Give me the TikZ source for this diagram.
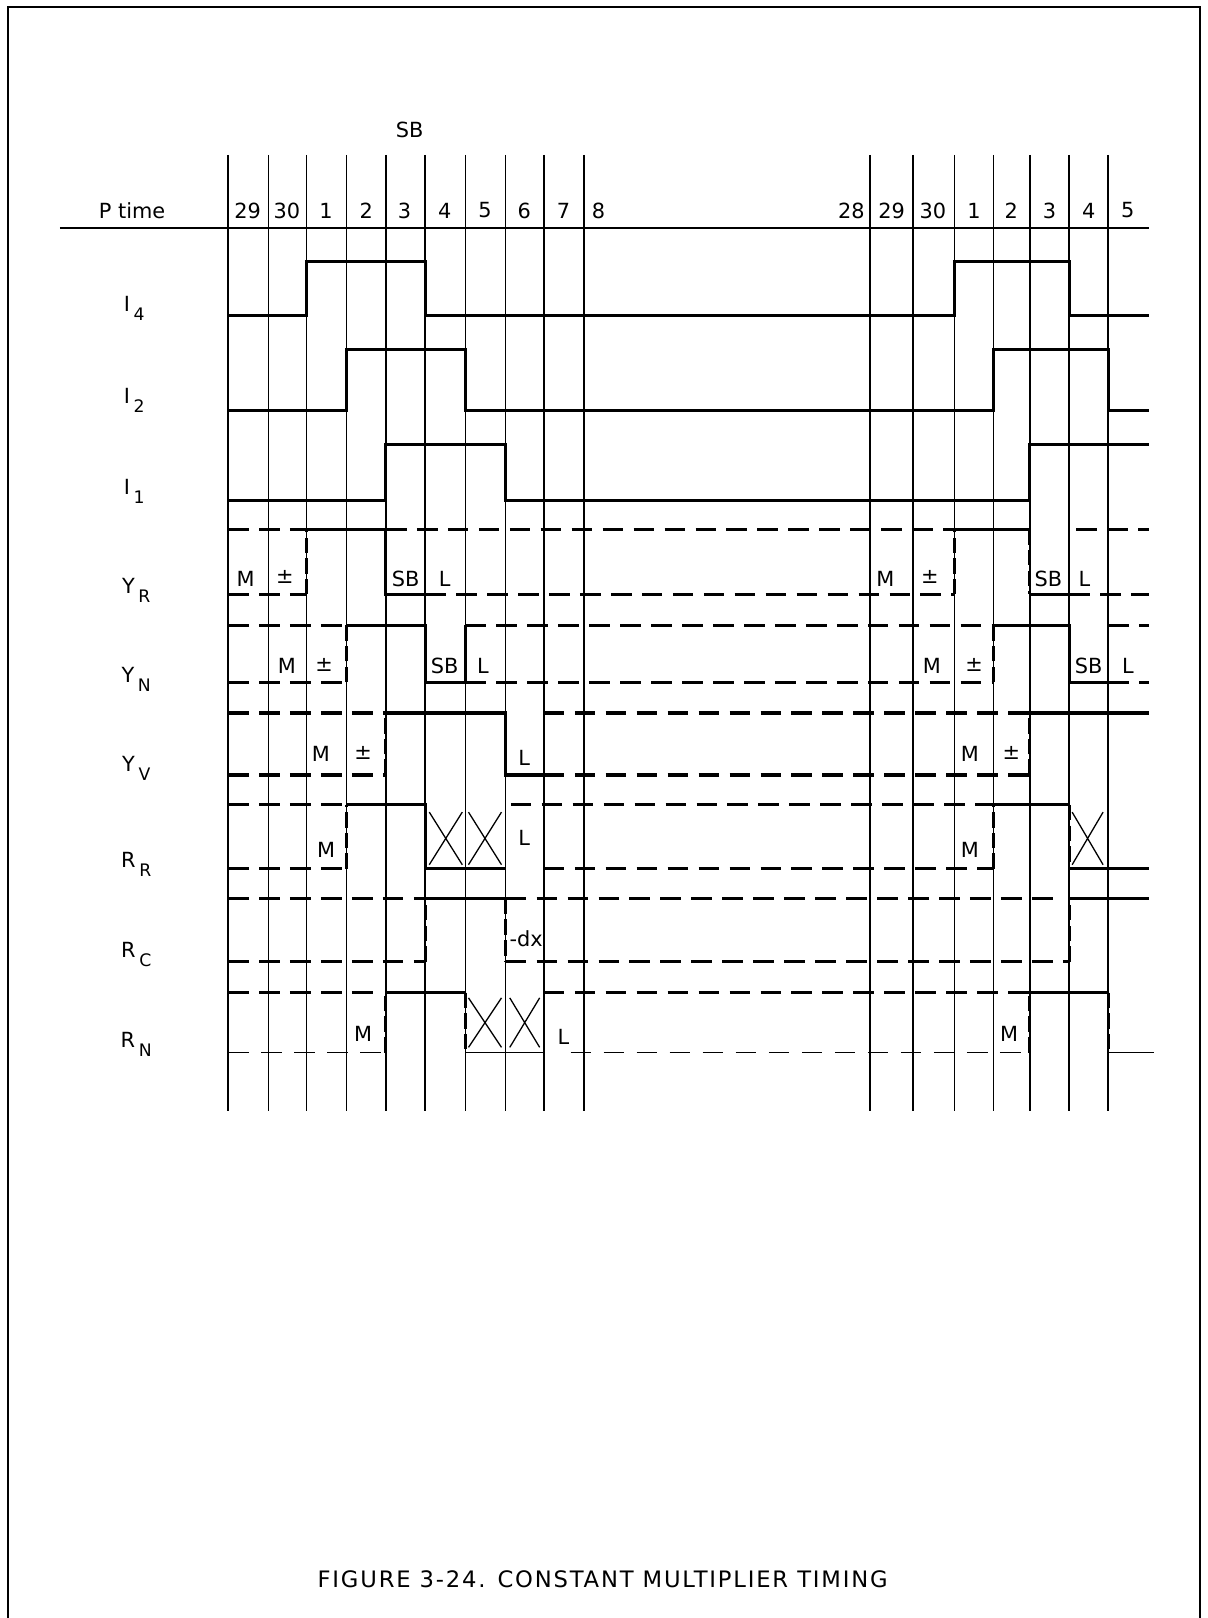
\documentclass[tikz,border=0pt]{standalone}
\usepackage{fontspec}
\setmainfont{DejaVu Sans}
\newfontfamily\capfont[LetterSpace=8]{DejaVu Sans}
\usepackage{tikz}
\tikzset{sig/.style={line width=0.6mm}}
\tikzset{dc/.style={line width=0.6mm,dash pattern=on 4mm off 2mm}}
\tikzset{dcedge/.style={line width=0.6mm,dash pattern=on 3mm off 1mm}}
\tikzset{thindc/.style={line width=0.3mm,dash pattern=on 4mm off 2.4mm}}
\tikzset{gridln/.style={line width=0.3mm}}
\tikzset{xmark/.style={line width=0.25mm}}
\tikzset{lbl/.style={inner sep=1pt,font=\fontsize{11.5}{13}\selectfont}}
\newcommand{\rowlbl}[2]{#1\kern2pt\raisebox{-0.8ex}{\fontsize{9.5}{11}\selectfont #2}}

\begin{document}
\begin{tikzpicture}[x=0.2mm,y=-0.2mm]
\useasboundingbox (0,0) rectangle (1170,1568);
% \draw[line width=0.5mm] (7.8,1568) rectangle (1163,6.8);
\draw[line width=0.5mm] (7.8,1580) -- (7.8,6.8) -- (1163,6.8) -- (1163,1580);
%
{
\node (sbtop) [lbl] at (397,126) {SB};
\node (ptime) [lbl] at (128,204) {P time};
\draw[gridln] (58,221) -- (1113,221);
\node (p29a) [lbl] at (240,204) {29};
\node (p30a) [lbl] at (278,204) {30};
\node (p1a) [lbl] at (316,204) {1};
\node (p2a) [lbl] at (355,204) {2};
\node (p3a) [lbl] at (392,204) {3};
\node (p4a) [lbl] at (431,204) {4};
\node (p5a) [lbl] at (470,204) {5};
\node (p6a) [lbl] at (508,204) {6};
\node (p7a) [lbl] at (546,204) {7};
\node (p8a) [lbl] at (580,204) {8};
\node (p28b) [lbl] at (825,204) {28};
\node (p29b) [lbl] at (864,204) {29};
\node (p30b) [lbl] at (904,204) {30};
\node (p1b) [lbl] at (944,204) {1};
\node (p2b) [lbl] at (980,204) {2};
\node (p3b) [lbl] at (1017,204) {3};
\node (p4b) [lbl] at (1055,204) {4};
\node (p5b) [lbl] at (1093,204) {5};
}
%
{
\draw[gridln] (221,150) -- (221,1077) (260,150) -- (260,1077)
  (297,150) -- (297,1077) (336,150) -- (336,1077)
  (374,150) -- (374,1077) (412,150) -- (412,1077)
  (451,150) -- (451,1077) (490,150) -- (490,1077)
  (527,150) -- (527,1077) (566,150) -- (566,1077);
\draw[gridln] (843,150) -- (843,1077) (885,150) -- (885,1077)
  (925,150) -- (925,1077) (963,150) -- (963,1077)
  (998,150) -- (998,1077) (1036,150) -- (1036,1077)
  (1074,150) -- (1074,1077);
}
%
{
\node (i4) [lbl] at (130,299) {\rowlbl{I}{4}};
\node (i2) [lbl] at (130,388) {\rowlbl{I}{2}};
\node (i1) [lbl] at (130,476) {\rowlbl{I}{1}};
\node (yr) [lbl] at (132,572) {\rowlbl{Y}{R}};
\node (yn) [lbl] at (132,658) {\rowlbl{Y}{N}};
\node (yv) [lbl] at (132,745) {\rowlbl{Y}{V}};
\node (rr) [lbl] at (132,838) {\rowlbl{R}{R}};
\node (rc) [lbl] at (132,925) {\rowlbl{R}{C}};
\node (rn) [lbl] at (132,1012) {\rowlbl{R}{N}};
}
%
{
\draw[sig] (221,306) -- (297,306) -- (297,253) -- (412,253) -- (412,306)
  -- (925,306) -- (925,253) -- (1036,253) -- (1036,306) -- (1113,306);
\draw[sig] (221,398) -- (336,398) -- (336,339) -- (451,339) -- (451,398)
  -- (963,398) -- (963,339) -- (1074,339) -- (1074,398) -- (1113,398);
\draw[sig] (221,485) -- (374,485) -- (374,431) -- (490,431) -- (490,485)
  -- (998,485) -- (998,431) -- (1113,431);
}
%
% Y_R
{
\draw[dc] (221,513) -- (297,513) (374,513) -- (925,513) (1043,513) -- (1113,513);
\draw[dc] (221,576) -- (297,576) (412,576) -- (925,576) (1036,576) -- (1113,576);
\draw[dcedge] (297,576) -- (297,513);
\draw[sig] (297,513) -- (374,513) -- (374,576) -- (412,576);
\draw[dcedge] (925,576) -- (925,513);
\draw[sig] (925,513) -- (998,513);
\draw[dcedge] (998,513) -- (998,576);
\draw[sig] (998,576) -- (1036,576);
\node (yrm1) [lbl] at (238,561) {M};
\node (yrpm1) [lbl] at (276,559) {±};
\node (yrsb1) [lbl] at (393,561) {SB};
\node (yrl1) [lbl] at (431,561) {L};
\node (yrm2) [lbl] at (858,561) {M};
\node (yrpm2) [lbl] at (901,559) {±};
\node (yrsb2) [lbl] at (1016,561) {SB};
\node (yrl2) [lbl] at (1051,561) {L};
}
%
% Y_N
{
\draw[dc] (221,606) -- (336,606) (451,606) -- (963,606) (1074,606) -- (1113,606);
\draw[dc] (221,661) -- (336,661) (451,661) -- (963,661) (1074,661) -- (1113,661);
\draw[dcedge] (336,661) -- (336,606);
\draw[sig] (336,606) -- (412,606) -- (412,661) -- (451,661) -- (451,606);
\draw[dcedge] (963,661) -- (963,606);
\draw[sig] (963,606) -- (1036,606) -- (1036,661) -- (1074,661);
\node (ynm1) [lbl] at (278,645) {M};
\node (ynpm1) [lbl] at (314,644) {±};
\node (ynsb1) [lbl] at (431,645) {SB};
\node (ynl1) [lbl] at (468,645) {L};
\node (ynm2) [lbl] at (903,645) {M};
\node (ynpm2) [lbl] at (944,644) {±};
\node (ynsb2) [lbl] at (1055,645) {SB};
\node (ynl2) [lbl] at (1093,645) {L};
}
%
% Y_V
{
\draw[dc] (221,691) -- (374,691) (527,691) -- (998,691);
\draw[dc] (221,751) -- (374,751) (527,751) -- (998,751);
\draw[dcedge] (374,751) -- (374,691);
\draw[sig] (374,691) -- (490,691) -- (490,751) -- (527,751);
\draw[dcedge] (998,751) -- (998,691);
\draw[sig] (998,691) -- (1113,691);
\node (yvm1) [lbl] at (311,731) {M};
\node (yvpm1) [lbl] at (352,730) {±};
\node (yvl1) [lbl] at (508,734) {L};
\node (yvm2) [lbl] at (940,731) {M};
\node (yvpm2) [lbl] at (980,730) {±};
}
%
% R_R
{
\draw[dc] (221,780) -- (336,780) (495,780) -- (963,780);
\draw[dc] (221,842) -- (336,842) (527,842) -- (963,842);
\draw[dcedge] (336,842) -- (336,780);
\draw[sig] (336,780) -- (412,780) -- (412,842) -- (490,842);
\draw[xmark] (416,787) -- (448,838) (416,838) -- (448,787);
\draw[xmark] (454,787) -- (486,838) (454,838) -- (486,787);
\draw[dcedge] (963,842) -- (963,780);
\draw[sig] (963,780) -- (1036,780);
\draw[dcedge] (1036,780) -- (1036,842);
\draw[sig] (1036,842) -- (1113,842);
\draw[xmark] (1039,787) -- (1069,838) (1039,838) -- (1069,787);
\node (rrm1) [lbl] at (316,824) {M};
\node (rrl1) [lbl] at (508,812) {L};
\node (rrm2) [lbl] at (940,824) {M};
}
%
% R_C
{
\draw[dc] (221,871) -- (412,871) (490,871) -- (1030,871);
\draw[dc] (221,932) -- (412,932) (490,932) -- (1036,932);
\draw[dcedge] (412,932) -- (412,871);
\draw[sig] (412,871) -- (490,871);
\draw[dcedge] (490,871) -- (490,932);
\draw[dcedge] (1036,932) -- (1036,871);
\draw[sig] (1036,871) -- (1113,871);
\node (rcdx) [lbl] at (510,910) {-dx};
}
%
% R_N
{
\draw[dc] (221,962) -- (370,962) (527,962) -- (998,962);
\draw[thindc] (221,1020) -- (374,1020) (553,1020) -- (998,1020);
\draw[dcedge] (374,1020) -- (374,962);
\draw[sig] (374,962) -- (451,962);
\draw[dcedge] (451,962) -- (451,1020);
\draw[gridln] (451,1020) -- (527,1020);
\draw[xmark] (454,967) -- (486,1015) (454,1015) -- (486,967);
\draw[xmark] (494,967) -- (523,1015) (494,1015) -- (523,967);
\draw[dcedge] (998,1020) -- (998,962);
\draw[sig] (998,962) -- (1074,962);
\draw[dcedge] (1074,962) -- (1074,1020);
\draw[gridln] (1074,1020) -- (1118,1020);
\node (rnm1) [lbl] at (352,1002) {M};
\node (rnl1) [lbl] at (546,1005) {L};
\node (rnm2) [lbl] at (978,1002) {M};
}
%
\node (caption) [inner sep=1pt,font=\capfont\fontsize{12.5}{14}\selectfont] at (584,1530) {FIGURE 3-24. CONSTANT MULTIPLIER TIMING};
\end{tikzpicture}
\end{document}
